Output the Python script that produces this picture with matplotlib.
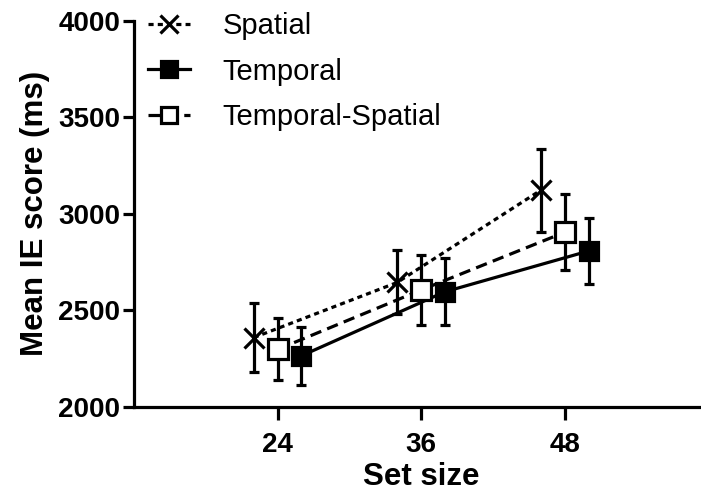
import matplotlib
matplotlib.use("Agg")
import matplotlib.pyplot as plt
import numpy as np

set_sizes = [24, 36, 48]
x_ticks = [24, 36, 48]
y_ticks = [2000, 2500, 3000, 3500, 4000]

spatial_mean = [2357, 2643, 3121]
spatial_err = [180, 166, 216]
temporal_mean = [2263, 2595, 2806]
temporal_err = [149, 175, 169]
tempspat_mean = [2296, 2604, 2903]
tempspat_err = [161, 180, 197]

series_labels = ["Spatial", "Temporal", "Temporal-Spatial"]
offsets = [-2.0, 2.0, 0.0]

plt.rcParams['font.family'] = ['Liberation Sans', 'DejaVu Sans']

fig = plt.figure(figsize=(7.01, 4.94), dpi=100)
ax = fig.add_axes([0.1912, 0.1771, 0.819, 0.781])

lw = 2.3
x = np.array(set_sizes, dtype=float)

def draw(xs, means, errs, marker, ms, mfc, dashes, label, z):
    ax.errorbar(xs, means, yerr=errs, fmt='none', ecolor='black',
                elinewidth=lw, capsize=3.8, capthick=lw, zorder=z)
    line, = ax.plot(xs, means, color='black', lw=lw, marker=marker, ms=ms,
                    mfc=mfc, mec='black', mew=lw, label=label, zorder=z + 1)
    if dashes is not None:
        line.set_dashes(dashes)
    return line

h1 = draw(x + offsets[0], spatial_mean, spatial_err, 'x', 15, 'black', (1.6, 1.3), series_labels[0], 2)
h2 = draw(x + offsets[1], temporal_mean, temporal_err, 's', 13, 'black', None, series_labels[1], 4)
h3 = draw(x + offsets[2], tempspat_mean, tempspat_err, 's', 14, 'white', (3.6, 2.0), series_labels[2], 6)

ax.set_xlim(12, 60)
ax.set_ylim(2000, 4000)
ax.set_xticks(x_ticks)
ax.set_yticks(y_ticks)
ax.set_xticklabels([str(t) for t in x_ticks], fontsize=20, fontweight='bold')
ax.set_yticklabels([str(t) for t in y_ticks], fontsize=20, fontweight='bold')
ax.tick_params(axis='y', direction='out', length=8, width=lw, pad=2)
ax.tick_params(axis='x', direction='out', length=9, width=lw, pad=9)

for s in ['top', 'right']:
    ax.spines[s].set_visible(False)
for s in ['left', 'bottom']:
    ax.spines[s].set_linewidth(lw)

ax.set_xlabel("Set size", fontsize=22.5, fontweight='bold', labelpad=3)
ax.set_ylabel("Mean IE score (ms)", fontsize=22.5, fontweight='bold', labelpad=6)

leg = ax.legend(handles=[h1, h2, h3], loc='upper left',
                bbox_to_anchor=(148 / 701, (494 - 12) / 494), bbox_transform=fig.transFigure,
                frameon=False, fontsize=21, handlelength=1.45, handletextpad=1.1,
                borderpad=0, borderaxespad=0, labelspacing=0.6, markerscale=0.85)

fig.savefig("out.png", dpi=100)
